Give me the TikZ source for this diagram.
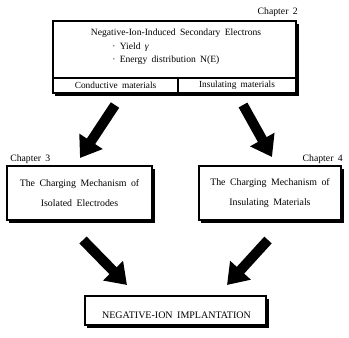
\documentclass[tikz,border=0pt]{standalone}
\usepackage{fontspec}
\setmainfont{Liberation Serif}[WordSpace=1.8]
\usetikzlibrary{arrows.meta,calc}
\begin{document}
\begin{tikzpicture}[x=0.75pt,y=-0.75pt,
  box/.style={draw,line width=1pt,fill=white,inner sep=0pt},
  lbl/.style={font=\fontsize{7.3}{8}\selectfont,inner sep=0pt},
  txt/.style={font=\fontsize{7.2}{8}\selectfont,inner sep=0pt},
  cell/.style={font=\fontsize{7}{8}\selectfont,inner sep=0pt},
  bigarrow/.style={line width=7.5pt,-{Triangle[length=15pt,width=20pt]}},
  shade/.style={fill=black}]
\useasboundingbox (0,0) rectangle (349,337);
% top box
\fill[shade] (55,23.5) rectangle (298.5,95.5);
\node[box,minimum width=182.25pt,minimum height=42.75pt] (top) at (174.5,49.5) {};
\node[box,minimum width=93.75pt,minimum height=11.25pt,cell] (cond) at (115.5,85.5) {Conductive materials};
\node[box,minimum width=88.5pt,minimum height=11.25pt,cell] (ins) at (237,85.5) {Insulating materials};
\node[txt] (title) at (176,33) {Negative-Ion-Induced Secondary Electrons};
\node[txt,anchor=west,align=left,font=\fontsize{7.2}{9.75}\selectfont] (bul) at (112,53.5) {· Yield \textit{γ}\\· Energy distribution N(E)};
\node[lbl,anchor=east] (ch2) at (298,12) {Chapter 2};
% left box
\fill[shade] (9,168.5) rectangle (154.5,222.5);
\node[box,minimum width=108.75pt,minimum height=40.5pt,align=center,font=\fontsize{7.4}{15}\selectfont] (left) at (79.5,193) {The Charging Mechanism of\\Isolated Electrodes};
\node[lbl,anchor=west] (ch3) at (10,159) {Chapter 3};
% right box
\fill[shade] (201,168.5) rectangle (343.5,222.5);
\node[box,minimum width=106.5pt,minimum height=40.5pt,align=center,font=\fontsize{7.4}{15}\selectfont] (right) at (270,193) {The Charging Mechanism of\\Insulating Materials};
\node[lbl,anchor=east] (ch4) at (343,159) {Chapter 4};
% bottom box
\fill[shade] (87,298.5) rectangle (268.5,327.5);
\node[box,minimum width=135.75pt,minimum height=21.75pt] (bot) at (175.5,310.5) {};
\node[font=\fontsize{7.5}{8}\selectfont,inner sep=0pt] (bottxt) at (176.5,315) {NEGATIVE-ION IMPLANTATION};
% arrows
\coordinate (a1) at (115,105);
\coordinate (a1e) at (80,158);
\coordinate (a2) at (243,105);
\coordinate (a2e) at (272,157);
\coordinate (a3) at (83,240);
\coordinate (a3e) at (127,285);
\coordinate (a4) at (268,240);
\coordinate (a4e) at (227,285);
\draw[bigarrow] (a1) -- (a1e);
\draw[bigarrow] (a2) -- (a2e);
\draw[bigarrow] (a3) -- (a3e);
\draw[bigarrow] (a4) -- (a4e);
\end{tikzpicture}
\end{document}
